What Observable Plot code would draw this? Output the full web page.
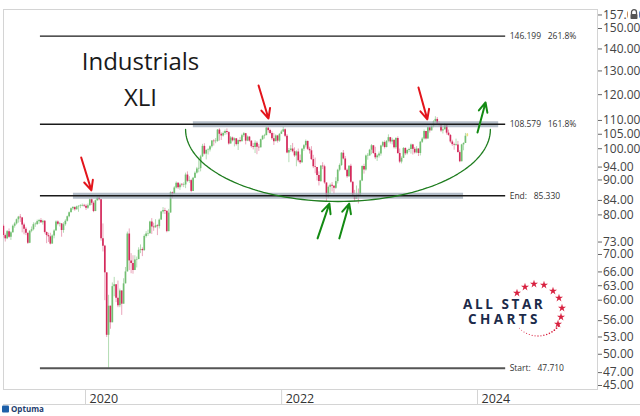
<!DOCTYPE html>
<html>
<head>
<meta charset="utf-8">
<script src="https://cdn.jsdelivr.net/npm/d3@7"></script>
<script src="https://cdn.jsdelivr.net/npm/@observablehq/plot@0.6"></script>
<style>
  html, body { margin: 0; padding: 0; background: #fff; overflow: hidden; }
  #chart { width: 640px; height: 416px; }
</style>
</head>
<body>
<div id="chart"></div>
<script>
// ---------- DATA (weekly XLI candles: [close, high, low]; open = prior close) ----------
const firstWeek = "2019-03-01";
const firstOpen = 77.0;
const xli2019 = [
  [74.6,77.4,74.0],[73.8,75.0,73.0],[75.6,75.9,73.6],[74.2,76.3,73.9],[75.3,75.6,73.4],
  [77.0,77.3,75.4],[77.6,78.0,76.5],[78.7,78.9,77.3],[79.4,79.6,77.8],[79.2,80.1,78.0],
  [77.3,78.6,75.3],[76.2,77.8,74.8],[75.2,76.7,74.6],[72.7,75.2,72.4],[75.7,75.9,72.6],
  [76.1,76.8,75.3],[77.4,77.9,75.8],[77.4,77.9,76.7],[78.2,78.6,77.3],[78.5,78.8,77.5],
  [77.9,79.0,77.7],[78.3,78.6,77.3],[75.4,78.5,75.0],[74.6,75.5,72.6],[74.3,75.2,72.9],
  [72.5,75.2,72.3],[74.5,74.8,72.6],[75.8,76.1,73.8],[78.1,78.4,75.8],[77.5,78.4,77.1],
  [77.6,78.0,76.8],[75.9,77.7,74.2],[77.4,77.9,75.2],[78.3,78.7,77.0],[79.5,79.7,78.1],
  [80.6,80.8,79.2],[81.7,81.9,80.6],[82.0,82.3,81.2],[81.4,82.2,81.0],[82.2,82.4,81.3],
  [82.3,82.5,80.7],[82.4,82.8,81.7],[82.6,83.0,82.2],[82.4,82.9,82.0]
];
const xli2020 = [
  [81.8,82.8,81.2],[82.5,83.0,81.5],[84.2,84.4,82.4],[83.2,84.4,82.6],[80.9,83.6,80.6],
  [83.9,84.1,81.3],[84.7,85.0,83.8],[84.2,85.3,83.9],[73.8,84.3,73.2],[72.0,77.6,70.6],
  [65.8,72.2,59.9],[53.3,63.9,52.9],[58.8,61.0,47.7],[55.6,58.5,54.4],[62.8,63.6,56.9],
  [63.2,64.8,60.7],[60.4,63.2,59.5],[58.9,64.0,58.5],[61.9,62.3,58.5],[59.2,61.8,57.0],
  [63.4,64.5,60.5],[66.0,67.0,63.8],[75.0,75.5,66.2],[68.5,76.3,66.3],[67.9,70.2,65.6],
  [66.3,69.7,65.5],[68.7,69.7,66.3],[68.8,69.4,66.9],[71.0,71.6,69.5],[71.2,72.3,70.2],
  [70.9,71.6,69.5],[74.4,74.8,70.8],[75.0,75.6,74.0],[75.1,76.0,74.4],[78.1,78.3,75.0],
  [76.8,79.0,74.9],[76.6,77.8,75.7],[77.1,78.7,76.5],[76.9,77.4,74.6],[78.6,78.9,76.3],
  [80.8,81.0,78.8],[81.2,82.0,80.2],[81.0,81.8,80.1],[75.6,80.8,75.3],[80.5,81.5,76.2],
  [86.2,86.5,81.7],[85.8,86.4,84.5],[87.6,88.0,85.9],[89.0,89.4,87.3],[87.7,89.2,87.2],
  [88.5,89.0,86.9],[88.4,88.9,87.9]
];
const xli2021 = [
  [88.5,89.1,87.7],[91.5,92.1,87.4],[89.6,92.5,89.2],[89.8,91.0,89.0],[86.6,90.2,86.2],
  [90.5,90.8,86.9],[92.1,92.5,90.4],[93.4,93.9,91.8],[93.5,96.5,92.2],[97.3,97.8,92.5],
  [100.8,101.5,97.1],[98.2,101.7,97.9],[99.4,99.7,96.3],[99.6,100.0,97.9],[100.7,101.0,98.9],
  [102.6,102.8,100.2],[102.4,103.1,100.9],[102.5,103.5,101.7],[106.5,106.7,102.2],[105.0,107.0,102.6],
  [104.4,105.5,102.8],[105.3,105.8,104.0],[106.0,106.5,104.6],[105.6,106.9,104.8],[101.6,105.9,101.2],
  [103.7,104.2,101.8],[102.7,104.0,102.3],[103.4,103.7,100.6],[101.4,103.5,100.9],[102.8,103.0,99.4],
  [102.4,103.8,102.0],[104.5,105.0,102.4],[105.2,105.6,103.9],[102.6,105.3,101.3],[104.0,104.4,102.4],
  [102.6,104.2,102.2],[100.7,102.7,100.2],[100.4,101.8,99.6],[101.9,102.7,98.4],[100.5,102.4,98.0],
  [100.3,101.4,99.1],[103.1,103.3,100.3],[104.3,104.6,102.8],[104.5,105.0,103.3],[107.2,107.5,104.6],
  [106.3,107.4,105.4],[105.3,106.8,104.8],[103.4,105.9,102.8],[102.4,105.3,101.1],[104.4,104.8,102.4],
  [102.6,104.6,101.9],[105.0,105.2,102.2],[105.8,106.4,104.9]
];
const xli2022 = [
  [106.6,107.6,105.7],[104.3,106.9,103.8],[98.6,104.9,98.3],[99.4,100.1,95.4],[99.9,101.1,98.8],
  [99.0,101.8,98.6],[97.6,100.3,97.1],[98.9,99.3,94.1],[96.0,99.9,95.4],[95.4,97.9,94.8],
  [99.8,100.1,95.2],[101.0,101.4,99.1],[102.5,103.0,100.3],[99.8,102.6,99.4],[99.3,100.5,98.2],
  [96.4,100.7,96.1],[94.1,97.8,93.5],[93.9,96.9,91.9],[91.4,93.9,89.7],[89.5,92.5,88.2],
  [94.3,94.5,89.3],[94.1,95.4,93.2],[89.1,94.6,88.7],[84.8,88.3,83.4],[87.8,88.2,84.5],
  [88.4,88.8,85.7],[88.1,89.2,86.4],[87.5,88.3,85.8],[89.5,90.7,87.2],[93.0,93.3,88.8],
  [94.5,95.0,92.5],[98.5,98.7,94.2],[96.6,99.4,96.3],[93.0,97.4,92.8],[91.0,93.4,90.5],
  [94.3,94.5,90.8],[89.3,94.9,89.0],[85.2,89.5,84.8],[84.3,86.9,83.6],[85.6,88.2,85.0],
  [85.4,87.3,83.0],[89.7,89.9,85.6],[94.2,94.4,89.5],[93.1,94.9,91.8],[97.6,97.9,92.7],
  [97.6,98.4,96.2],[99.5,99.8,97.5],[101.0,101.4,98.0],[98.4,100.9,98.1],[97.0,100.5,96.4],
  [97.6,98.0,95.8],[98.2,98.9,96.9]
];
const xli2023 = [
  [100.9,101.2,97.5],[102.1,102.5,100.4],[100.4,102.7,99.9],[102.5,102.8,100.3],[103.8,104.8,102.0],
  [102.3,103.9,101.6],[102.9,103.6,101.3],[100.3,102.7,99.9],[103.5,103.8,99.8],[98.4,104.1,98.1],
  [95.6,99.9,95.1],[96.8,97.3,95.0],[100.1,100.4,96.9],[98.3,100.3,97.7],[99.4,99.7,97.9],
  [99.7,100.2,98.7],[101.3,101.6,98.2],[99.8,101.5,97.9],[98.6,100.4,98.2],[99.9,100.7,98.3],
  [98.4,100.0,97.4],[102.2,102.5,97.6],[103.3,103.8,101.8],[106.0,106.5,103.0],[103.3,105.9,103.0],
  [107.3,107.5,103.3],[106.2,107.6,105.4],[107.8,108.5,106.2],[109.5,109.9,107.3],[110.4,111.4,108.8],
  [108.7,111.1,108.4],[108.5,109.6,107.7],[106.2,108.8,105.6],[106.6,107.5,105.1],[108.2,108.9,106.5],
  [105.4,108.1,104.7],[104.6,106.5,104.3],[102.3,104.9,101.8],[101.4,102.9,100.8],[101.2,101.9,99.5],
  [101.3,103.3,100.8],[98.7,102.5,98.5],[95.7,99.3,95.4],[101.3,101.5,96.0],[101.8,102.0,99.3],
  [104.3,105.3,102.3],[105.0,105.2,104.1]
];

// Fibonacci / reference levels
const levelPrices = [146.199, 108.579, 85.330, 47.710];
const levelLabels = ["146.199\u00a0\u00a0\u00a0261.8%", "108.579\u00a0\u00a0\u00a0161.8%", "End:\u00a0\u00a0\u00a085.330", "Start:\u00a0\u00a0\u00a047.710"];
const levelStart = "2019-07-17", levelEnd = "2024-04-15";

// Grey support/resistance bands
const bandPrices = [108.579, 85.330];
const bandStarts = ["2021-02-06", "2019-11-17"];
const bandEnds = ["2024-03-20", "2023-11-10"];

// Rounded-bottom arc annotation (extent in data units)
const arcLeft = "2021-01-08", arcRight = "2024-02-18", arcTop = 106.7, arcBottom = 83.7;

// Arrows: [fromDate, fromPrice, toDate, toPrice]
const redArrows = [
  ["2019-12-16", 97.1, "2020-01-23", 86.9],
  ["2021-10-07", 123.8, "2021-11-13", 110.7],
  ["2023-05-26", 122.9, "2023-06-28", 110.4]
];
const greenArrows = [
  ["2024-01-01", 105.6, "2024-01-31", 116.9],
  ["2022-05-15", 73.9, "2022-06-28", 83.1],
  ["2022-08-04", 73.9, "2022-09-10", 83.1]
];

const priceTicks = [45,47,50,53,56,60,63,66,70,73,80,84,90,94,100,105,110,120,130,140,150,157];
const yearTicks = ["2020-01-01", "2022-01-01", "2024-01-01"];

// ---------- BUILD ----------
const D = s => new Date(s + "T00:00:00Z");
const weeks = [...xli2019, ...xli2020, ...xli2021, ...xli2022, ...xli2023];
let prev = firstOpen;
const candles = weeks.map(([c, h, l], i) => {
  const o = prev; prev = c;
  return {date: d3.utcDay.offset(D(firstWeek), 7 * i), open: o, close: c,
          high: Math.max(h, o, c), low: Math.min(l, o, c), last: i === weeks.length - 1};
});
const levels = levelPrices.map((p, i) => ({price: p, label: levelLabels[i], x1: D(levelStart), x2: D(levelEnd), start: i === 3}));
const bands = bandPrices.map((p, i) => ({price: p, x1: D(bandStarts[i]), x2: D(bandEnds[i])}));
const arrows = (list, color) => list.map(([a, p, b, q]) => ({x1: D(a), y1: p, x2: D(b), y2: q, color}));
const allArrows = [...arrows(redArrows, "#e3141b"), ...arrows(greenArrows, "#138a13")];
const years = yearTicks.map(D);

// Half-ellipse (straight in time × log-price, so it is an ellipse on screen)
const tL = +D(arcLeft), tR = +D(arcRight), lnT = Math.log(arcTop), lnB = Math.log(arcBottom);
const arcPts = d3.range(0, 81).map(i => {
  const a = Math.PI * i / 80;
  return {date: new Date((tL + tR) / 2 - Math.cos(a) * (tR - tL) / 2), price: Math.exp(lnT + Math.sin(a) * (lnB - lnT))};
});

const up = d => d.last ? "#e8e27a" : (d.close >= d.open ? "#72bf72" : "#d42a5c");
const wick = d => d.last ? "#dcd77a" : (d.close >= d.open ? "#b3dcb3" : "#eaa6bb");

const plot = Plot.plot({
  width: 640, height: 416,
  marginTop: 9, marginBottom: 27, marginLeft: 3, marginRight: 43,
  style: {fontFamily: "'Open Sans', 'Liberation Sans', sans-serif", background: "#fff", color: "#444"},
  x: {type: "utc", domain: [D("2020-01-01"), D("2024-01-01")], range: [85, 477], axis: null},
  y: {type: "log", domain: [45, 150], range: [385, 28], axis: null},
  marks: [
    Plot.frame({stroke: "#d4d4d4"}),
    Plot.ruleX(candles, {x: "date", y1: "low", y2: "high", stroke: wick, strokeWidth: 1, clip: true}),
    Plot.ruleX(candles, {x: "date", y1: "open", y2: d => Math.abs(d.close - d.open) < 0.15 ? d.open * 1.002 : d.close, stroke: up, strokeWidth: 1.7, clip: true}),
    Plot.ruleY(bands, {y: "price", x1: "x1", x2: "x2", stroke: "#9ba8b7", strokeWidth: 6, strokeOpacity: 0.75}),
    Plot.ruleY(levels, {y: "price", x1: "x1", x2: "x2", stroke: d => d.start ? "#555555" : "#1a1a1a", strokeWidth: d => d.start ? 2 : 1.4}),
    Plot.text(levels, {x: "x2", y: "price", text: "label", textAnchor: "start", dx: 4, fontSize: 8.5, fill: "#333"}),
    Plot.line(arcPts, {x: "date", y: "price", stroke: "#1f7d1f", strokeWidth: 1.3}),
    Plot.arrow(allArrows, {x1: "x1", y1: "y1", x2: "x2", y2: "y2", stroke: "color", strokeWidth: 2, headLength: 8, headAngle: 50}),
    Plot.text(["Industrials"], {frameAnchor: "top-left", dx: 137, dy: 43, lineAnchor: "top", textAnchor: "middle", fontSize: 24, fill: "#1a1a1a"}),
    Plot.text(["XLI"], {frameAnchor: "top-left", dx: 137, dy: 79, lineAnchor: "top", textAnchor: "middle", fontSize: 24, fill: "#1a1a1a"}),
    Plot.axisY({ticks: priceTicks, anchor: "right", tickFormat: d3.format(".2f"), tickSize: 4, tickPadding: 1.5, fontSize: 12, stroke: "#666", fill: "#444"}),
    Plot.axisX({ticks: years, tickFormat: () => "", tickSize: 15, stroke: "#d4d4d4"}),
    Plot.text(years, {x: d => d, frameAnchor: "bottom", text: d3.utcFormat("%Y"), lineAnchor: "middle", dy: 9, dx: 4, textAnchor: "start", fontSize: 12.5, fill: "#333"})
  ]
});
document.getElementById("chart").appendChild(plot);

// ---------- decorations (logo, watermark, lock) ----------
const svg = d3.select(plot);
svg.append("line").attr("x1", 3).attr("x2", 640).attr("y1", 404.5).attr("y2", 404.5).attr("stroke", "#d4d4d4");
const logo = svg.append("g").attr("font-family", "'Open Sans', sans-serif").attr("font-weight", 700).attr("fill", "#1c2b4a").attr("text-anchor", "start");
logo.append("text").attr("x", 463).attr("y", 309).attr("font-size", 13.5).attr("letter-spacing", 2.6).text("ALL STAR");
logo.append("text").attr("x", 468).attr("y", 323.5).attr("font-size", 13.5).attr("letter-spacing", 3.4).text("CHARTS");
const starPos = [[517,293],[525,287],[534,284],[544,285],[553,291],[559,298],[562,308],[561,317],[558,324]];
const star = d3.symbol(d3.symbolStar, 20)();
starPos.forEach(([x, y]) => svg.append("path").attr("d", star).attr("transform", `translate(${x},${y})`).attr("fill", "#d8203f"));
for (let i = 0; i < 16; i++) {
  const a = (38 + i * 6.5) * Math.PI / 180;
  svg.append("circle").attr("cx", 538 + 26 * Math.cos(a)).attr("cy", 310 + 26 * Math.sin(a)).attr("r", 0.9 - i * 0.03).attr("fill", "#d8203f");
}
// lock icon over the top tick
const lock = svg.append("g").attr("transform", "translate(629,9)");
lock.append("rect").attr("x", -1).attr("y", 0).attr("width", 11).attr("height", 11).attr("fill", "#fff");
lock.append("path").attr("d", "M2.5,5 V3.2 A2.5,2.5 0 0 1 7.5,3.2 V5").attr("fill", "none").attr("stroke", "#555").attr("stroke-width", 1.3);
lock.append("rect").attr("x", 1.5).attr("y", 5).attr("width", 7).attr("height", 5).attr("rx", 0.8).attr("fill", "#555");
// Optuma watermark
svg.append("rect").attr("x", 2).attr("y", 405.5).attr("width", 7).attr("height", 7).attr("rx", 1).attr("fill", "#1d5fa8");
svg.append("text").attr("x", 11).attr("y", 411.5).attr("text-anchor", "start").attr("font-size", 8).attr("font-weight", 700).attr("fill", "#1d3c6e").attr("font-family", "'Open Sans', sans-serif").text("Optuma");
</script>
</body>
</html>
